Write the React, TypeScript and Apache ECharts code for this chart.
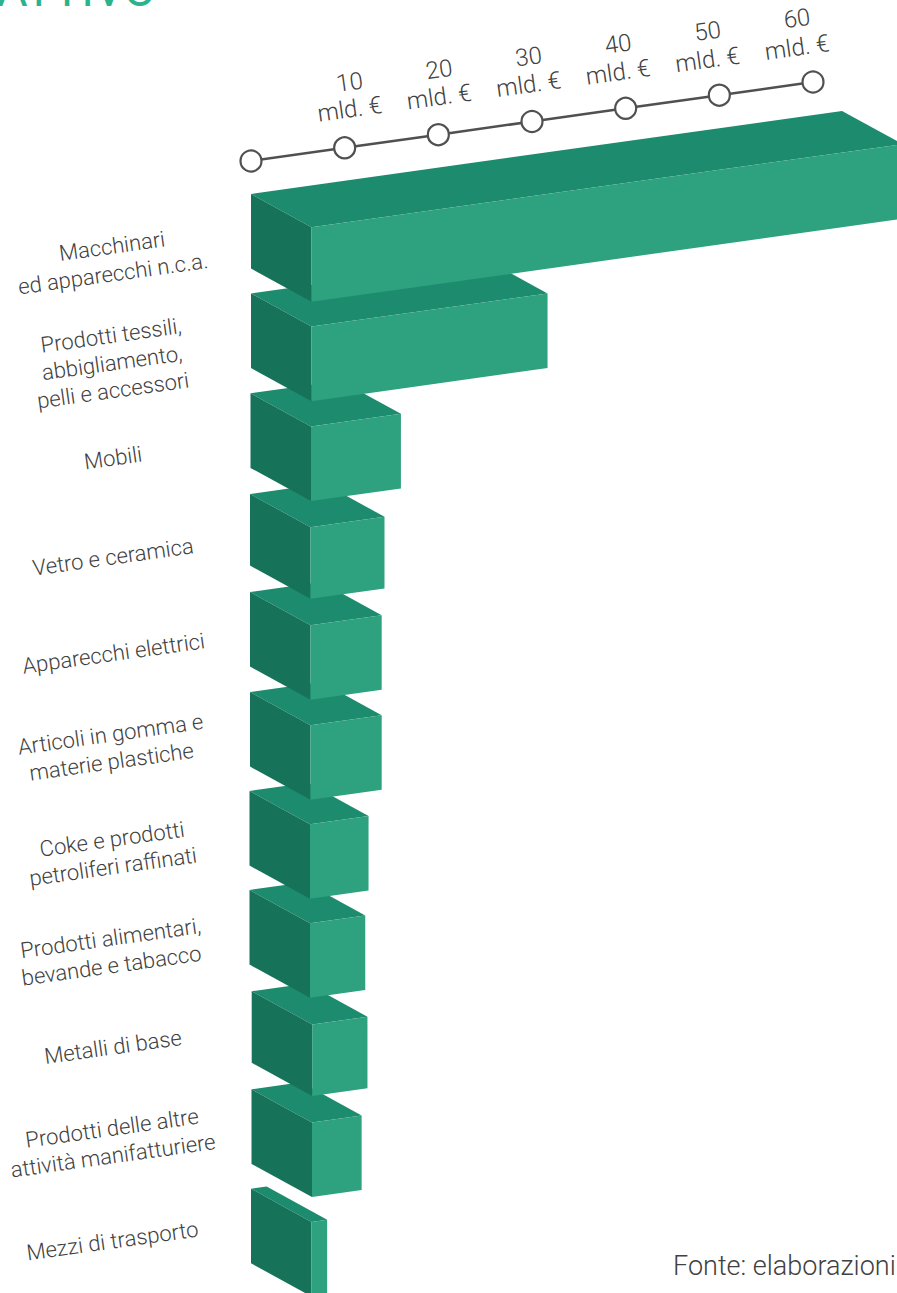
import React, { useEffect, useRef } from "react";
import * as echarts from "echarts";

const categories = [
  "Macchinari\ned apparecchi n.c.a.",
  "Prodotti tessili,\nabbigliamento,\npelli e accessori",
  "Mobili",
  "Vetro e ceramica",
  "Apparecchi elettrici",
  "Articoli in gomma e\nmaterie plastiche",
  "Coke e prodotti\npetroliferi raffinati",
  "Prodotti alimentari,\nbevande e tabacco",
  "Metalli di base",
  "Prodotti delle altre\nattività manifatturiere",
  "Mezzi di trasporto",
];
const values = [63.1, 25.2, 9.6, 7.9, 7.6, 7.6, 6.25, 5.9, 5.9, 5.3, 1.67];
const axisTicks = [0, 10, 20, 30, 40, 50, 60];
const axisUnit = "mld. €";

// layout (pixels)
const nudgeX = [0, 0, -0.5, -1, -1, -1, -1.5, -1.5, 0.7, 0.5, 0];
const nudgeY = [0, 0, 0.5, 1.8, 0.4, 1, 0.6, 0.2, 2, 0.7, 0.7];
const heightNudge = [0, 0, 0, -3, 0, 0, 0, 0, -3, 0, 0];
const labelCenterY = [260, 363, 458, 557, 653.5, 748, 853, 952, 1047, 1142, 1241];
const labelCenterX = [112.5, 112, 113, 113, 113.5, 111, 112.5, 111, 113, 112.5, 112.5];
const SLOPE = 79 / 562;
const TILT = Math.atan(SLOPE);
const DEPTH_X = 60.5;
const DEPTH_Y = 33.2;
const HEIGHT = 74.6;
const TEXT = "#414141";
const LINE = "#505050";
const FONT = "Roboto";

const order = categories.map((_, i) => i).reverse();

export default function App() {
  const ref = useRef<HTMLDivElement>(null);
  useEffect(() => {
    document.body.style.margin = "0";
    const chart = echarts.init(ref.current!, null, { renderer: "svg" });
    const lineText = (text: string, x: number, y: number, fontSize: number) => ({
      type: "text",
      x,
      y,
      rotation: TILT,
      style: {
        text,
        fontFamily: FONT,
        fontSize,
        fontWeight: 300,
        fill: TEXT,
        align: "center",
        verticalAlign: "middle",
      },
      z2: 3,
    });
    chart.setOption({
      animation: false,
      backgroundColor: "#ffffff",
      grid: { left: 251, top: 144.3, right: 84, height: 1093.4, containLabel: false },
      xAxis: { type: "value", min: 0, max: 60, interval: 10, show: false },
      yAxis: { type: "category", inverse: true, data: categories, show: false },
      graphic: [
        {
          type: "text",
          x: -3,
          y: 13,
          style: {
            text: "ATTIVO",
            fontFamily: FONT,
            fontSize: 47,
            fontWeight: 400,
            fill: "#2ab38d",
            align: "left",
            verticalAlign: "bottom",
          },
        },
        {
          type: "text",
          x: 673,
          y: 1265.5,
          style: {
            text: "Fonte: elaborazioni",
            fontFamily: FONT,
            fontSize: 27,
            fontWeight: 300,
            fill: TEXT,
            align: "left",
            verticalAlign: "middle",
          },
        },
      ],
      series: [
        {
          type: "custom",
          coordinateSystem: "cartesian2d",
          clip: false,
          silent: true,
          data: order.map((i) => [values[i], i]),
          encode: { x: 0, y: 1 },
          renderItem: (_: any, api: any) => {
            const v = api.value(0);
            const i = api.value(1);
            const origin = api.coord([0, i]);
            const x0 = origin[0] + nudgeX[i];
            const y0 = origin[1] + nudgeY[i];
            const len = api.coord([v, i])[0] - origin[0];
            const rise = len * SLOPE;
            const h = HEIGHT + heightNudge[i];
            const bl: number[] = [x0, y0];
            const fl: number[] = [x0 + DEPTH_X, y0 + DEPTH_Y];
            const br: number[] = [x0 + len, y0 - rise];
            const fr: number[] = [fl[0] + len, fl[1] - rise];
            const down = (p: number[]) => [p[0], p[1] + h];
            return {
              type: "group",
              children: [
                { type: "polygon", shape: { points: [bl, br, fr, fl] }, style: { fill: "#1d8b6e" } },
                { type: "polygon", shape: { points: [bl, fl, down(fl), down(bl)] }, style: { fill: "#17725a" } },
                { type: "polygon", shape: { points: [fl, fr, down(fr), down(fl)] }, style: { fill: "#2ea17f" } },
              ],
            };
          },
          z: 2,
        },
        {
          type: "custom",
          coordinateSystem: "cartesian2d",
          clip: false,
          silent: true,
          data: categories.map((c, i) => [0, i]),
          encode: { x: 0, y: 1 },
          renderItem: (_: any, api: any) => {
            const i = api.value(1);
            const lines = categories[i].split("\n");
            const mid = (lines.length - 1) / 2;
            return {
              type: "group",
              children: lines.map((line, j) =>
                lineText(line, labelCenterX[i] + (j - mid) * 1, labelCenterY[i] + (j - mid) * 27.5, 22)
              ),
            };
          },
          z: 3,
        },
        {
          type: "custom",
          coordinateSystem: "cartesian2d",
          clip: false,
          silent: true,
          data: axisTicks.map((t) => [t, 0]),
          encode: { x: 0, y: 1 },
          renderItem: (params: any, api: any) => {
            const t = api.value(0);
            const base = api.coord([0, 0]);
            const yAt = (val: number) => base[1] - 33 - (api.coord([val, 0])[0] - base[0]) * SLOPE;
            const x = api.coord([t, 0])[0];
            const y = yAt(t);
            const children: any[] = [];
            if (params.dataIndex < axisTicks.length - 1) {
              const nx = api.coord([axisTicks[params.dataIndex + 1], 0])[0];
              children.push({
                type: "line",
                shape: { x1: x, y1: y, x2: nx, y2: yAt(axisTicks[params.dataIndex + 1]) },
                style: { stroke: LINE, lineWidth: 2.5 },
                z2: 1,
              });
            }
            children.push({
              type: "circle",
              shape: { cx: x, cy: y, r: 10.5 },
              style: { fill: "#ffffff", stroke: LINE, lineWidth: 2.2 },
              z2: 2,
            });
            if (t > 0) {
              const lx = x + 5 - (t - 10) * 0.42;
              children.push(lineText(String(t), lx, y - 65.5 + (t - 10) * 0.04, 24));
              children.push(lineText(axisUnit, lx, y - 38.5 + (t - 10) * 0.08, 24));
            }
            return { type: "group", children };
          },
          z: 4,
        },
      ],
    });
    return () => chart.dispose();
  }, []);
  return <div ref={ref} style={{ width: 897, height: 1293 }} />;
}
